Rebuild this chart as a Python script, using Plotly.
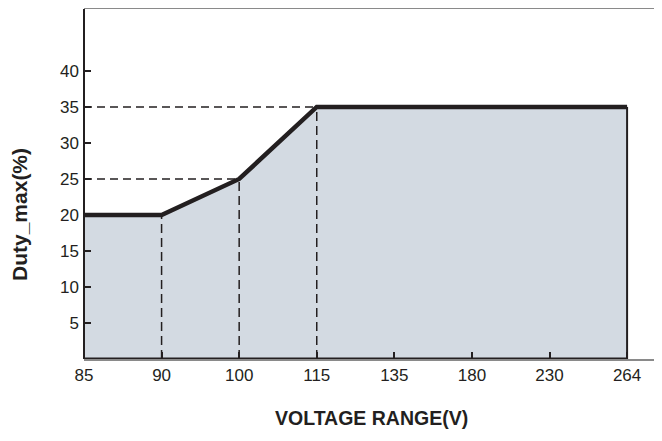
import plotly.graph_objects as go

# Data
x_labels = ["85", "90", "100", "115", "135", "180", "230", "264"]
x_pos = list(range(len(x_labels)))
curve_x = [0, 1, 2, 3, 7]
curve_y = [20, 20, 25, 35, 35]
y_ticks = [5, 10, 15, 20, 25, 30, 35, 40]
ref_points_x = [1, 2, 3]
ref_points_y = [20, 25, 35]

DARK = "#231f20"
FONT = "Liberation Sans, Arial, sans-serif"

# page body has an 8px margin; compensate
W, H = 654, 433
L, T = 76, 1
PLOT_W = W - L
PLOT_H = 350

fig = go.Figure()

# filled area
fig.add_trace(go.Scatter(x=curve_x + [7], y=curve_y + [0], mode="lines",
                         line=dict(color="rgba(0,0,0,0)", width=0),
                         fill="tozeroy", fillcolor="#d3dae2", hoverinfo="skip"))

# dashed reference lines
for xv, yv in zip(ref_points_x, ref_points_y):
    fig.add_trace(go.Scatter(x=[xv, xv], y=[0, yv], mode="lines",
                             line=dict(color=DARK, width=1.5, dash="9px,5px")))
for xv, yv in zip(ref_points_x[1:], ref_points_y[1:]):
    fig.add_trace(go.Scatter(x=[0, xv], y=[yv, yv], mode="lines",
                             line=dict(color=DARK, width=1.5, dash="8px,5px")))

# right edge of area
fig.add_trace(go.Scatter(x=[curve_x[-1], curve_x[-1]], y=[0, curve_y[-1]], mode="lines",
                         line=dict(color=DARK, width=2)))
# dark bottom axis segment
fig.add_trace(go.Scatter(x=[0, curve_x[-1]], y=[0, 0], mode="lines",
                         line=dict(color=DARK, width=3), cliponaxis=False))

# main curve
fig.add_trace(go.Scatter(x=curve_x, y=curve_y, mode="lines",
                         line=dict(color=DARK, width=4.5), cliponaxis=False))

fig.update_layout(
    width=W, height=H,
    margin=dict(l=L, r=0, t=T, b=H - T - PLOT_H),
    paper_bgcolor="white", plot_bgcolor="white",
    showlegend=False,
    font=dict(family=FONT, size=17, color=DARK),
    xaxis=dict(range=[0, 7.45], tickmode="array", tickvals=x_pos, ticktext=x_labels,
               ticks="inside", ticklen=7, tickwidth=1.5, tickcolor=DARK,
               showgrid=False, zeroline=False, showline=True, linecolor="#8a8a8a",
               linewidth=2, mirror=True, fixedrange=True,
               tickfont=dict(family=FONT, size=17, color=DARK)),
    yaxis=dict(range=[0, 48.6], tickmode="array", tickvals=y_ticks,
               ticks="inside", ticklen=7, tickwidth=1.5, tickcolor=DARK,
               showgrid=False, zeroline=False, showline=False, fixedrange=True,
               ticklabelstandoff=4,
               tickfont=dict(family=FONT, size=17, color=DARK)),
)

# left axis dark
fig.add_shape(type="line", xref="paper", yref="paper", x0=0, x1=0, y0=0, y1=1,
              line=dict(color=DARK, width=2))

# titles (positions in target-page pixels minus 8px body offset)
fig.add_annotation(text="<b>VOLTAGE RANGE(V)</b>", xref="paper", yref="paper",
                   x=(371 - 8 - L) / PLOT_W, y=-(418 - 8 - T - PLOT_H) / PLOT_H,
                   yanchor="middle", xanchor="center",
                   showarrow=False, font=dict(family=FONT, size=19.5, color=DARK))
fig.add_annotation(text="<b>Duty_max(%)</b>", xref="paper", yref="paper",
                   x=(20 - 8 - L) / PLOT_W, y=(PLOT_H + T - (215 - 8)) / PLOT_H,
                   xanchor="center", yanchor="middle",
                   textangle=-90, showarrow=False, font=dict(family=FONT, size=21, color=DARK))

fig.write_html("out.html")
